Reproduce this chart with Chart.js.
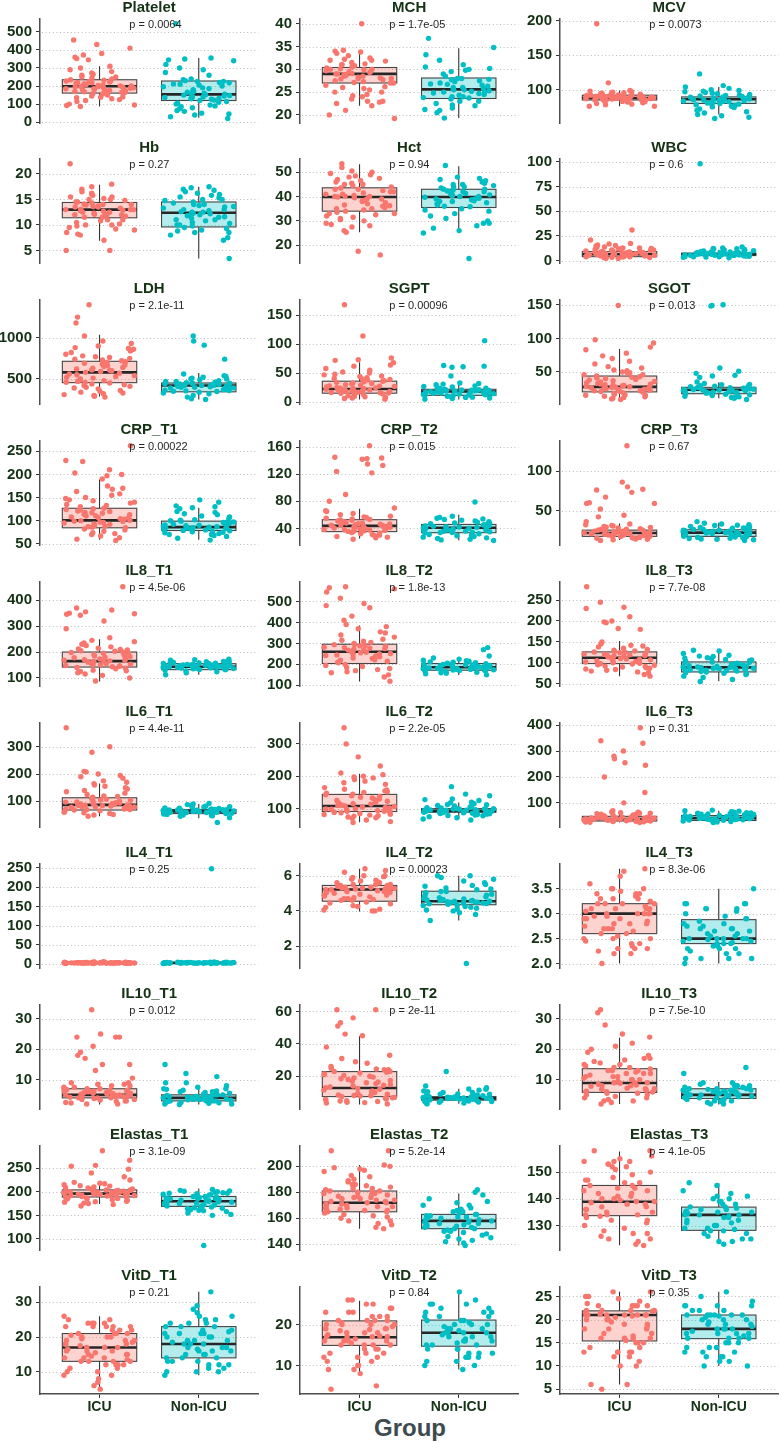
<!DOCTYPE html>
<html>
<head>
<meta charset="utf-8">
<script src="https://cdn.jsdelivr.net/npm/chart.js@4.4.0/dist/chart.umd.min.js"></script>
<style>
  body { margin: 0; background: #fff; }
  #wrap { position: relative; width: 781px; height: 1443px; overflow: hidden; }
  #wrap canvas { position: absolute; }
  #xtitle { position: absolute; left: 300px; width: 220px; top: 1413px; text-align: center;
            font: bold 24px "Liberation Sans", Arial, sans-serif; color: #3d4b4f; line-height: 30px; }
</style>
</head>
<body>
<div id="wrap"><div id="xtitle">Group</div></div>
<script>
const PANELS = ['Platelet', 'MCH', 'MCV', 'Hb', 'Hct', 'WBC', 'LDH', 'SGPT', 'SGOT',
  'CRP_T1', 'CRP_T2', 'CRP_T3', 'IL8_T1', 'IL8_T2', 'IL8_T3', 'IL6_T1', 'IL6_T2', 'IL6_T3',
  'IL4_T1', 'IL4_T2', 'IL4_T3', 'IL10_T1', 'IL10_T2', 'IL10_T3',
  'Elastas_T1', 'Elastas_T2', 'Elastas_T3', 'VitD_T1', 'VitD_T2', 'VitD_T3'];
const GROUPS = ['ICU', 'Non-ICU'];
const P_LABELS = ['p = 0.0064', 'p = 1.7e-05', 'p = 0.0073', 'p = 0.27', 'p = 0.94', 'p = 0.6',
  'p = 2.1e-11', 'p = 0.00096', 'p = 0.013', 'p = 0.00022', 'p = 0.015', 'p = 0.67',
  'p = 4.5e-06', 'p = 1.8e-13', 'p = 7.7e-08', 'p = 4.4e-11', 'p = 2.2e-05', 'p = 0.31',
  'p = 0.25', 'p = 0.00023', 'p = 8.3e-06', 'p = 0.012', 'p = 2e-11', 'p = 7.5e-10',
  'p = 3.1e-09', 'p = 5.2e-14', 'p = 4.1e-05', 'p = 0.21', 'p = 0.84', 'p = 0.35'];

const Y_TICKS = [
  [0, 100, 200, 300, 400, 500], [20, 25, 30, 35, 40], [100, 150, 200],
  [5, 10, 15, 20], [20, 30, 40, 50], [0, 25, 50, 75, 100],
  [500, 1000], [0, 50, 100, 150], [50, 100, 150],
  [50, 100, 150, 200, 250], [40, 80, 120, 160], [50, 100],
  [100, 200, 300, 400], [100, 200, 300, 400, 500], [50, 100, 150, 200, 250],
  [100, 200, 300], [100, 200, 300], [100, 200, 300, 400],
  [0, 50, 100, 150, 200, 250], [2, 4, 6], [2, 2.5, 3, 3.5],
  [10, 20, 30], [20, 40, 60], [10, 20, 30],
  [100, 150, 200, 250], [140, 160, 180, 200], [130, 140, 150],
  [10, 20, 30], [10, 20], [5, 10, 15, 20, 25]
];

// box stats: lower whisker, Q1, median, Q3, upper whisker
const ICU_BOX = [
  [87, 161, 199, 235, 310], [22, 27, 29, 30.4, 34.2], [76, 85, 88, 92, 99],
  [6.9, 11.4, 13, 14.4, 17.9], [25.3, 34, 39.8, 43.6, 53.3], [2.2, 4.1, 6.6, 9.2, 14],
  [286, 455, 580, 714, 1036], [4.3, 15.3, 22.6, 36, 68.5], [10.9, 20.4, 27.8, 44, 84],
  [58.7, 84.6, 100.6, 126.8, 189], [25, 35.2, 43.7, 52.8, 68.8], [12.6, 17.3, 21.5, 25.2, 33.6],
  [86, 142, 165, 200, 249], [118, 204, 260, 296, 385], [68, 98, 112, 126, 152],
  [45, 68, 87, 113, 165], [58, 91, 108, 144, 208], [24, 30, 38, 48, 66],
  [1.2, 2.5, 3, 3.5, 5], [3.96, 4.55, 5.22, 5.45, 6.4], [2, 2.6, 3, 3.2, 3.9],
  [1.8, 4, 5, 7, 9.2], [2.6, 7.5, 12.8, 22.9, 44.6], [2, 5.8, 8.9, 13.6, 23.8],
  [174, 189, 196, 204, 221], [152, 165, 172, 181, 201], [122.6, 133.7, 138.9, 145, 157.7],
  [5, 13, 17, 21, 26], [8.2, 14.9, 16.9, 20.9, 25.8], [6, 15.4, 21, 21.9, 26]
];
const NON_ICU_BOX = [
  [24, 120, 154, 228, 355], [19.3, 23.6, 25.6, 28.1, 34.6], [64, 80, 86, 89.5, 104],
  [3.4, 9.6, 12.4, 14.5, 17.5], [25, 35.5, 39.8, 43, 52.5], [3, 5.2, 6.6, 7.7, 11],
  [250, 344, 420, 451, 571], [4.3, 11.6, 18.3, 22, 33], [10.9, 17.7, 23.5, 27.2, 34.6],
  [58.7, 78.7, 86, 99, 128], [22.4, 33.6, 41, 45.8, 60], [12, 17.3, 22, 25.7, 34.6],
  [112, 132, 143, 155, 168], [149, 172, 186, 204, 228], [56, 78, 89, 102, 124],
  [38, 55, 63, 70, 90], [69, 89, 93, 100, 119], [24, 32, 41, 51, 70],
  [1.2, 2.5, 3, 3.5, 5], [3.45, 4.35, 4.55, 5.12, 6], [2, 2.4, 2.5, 2.88, 3.5],
  [1.8, 3, 4, 5, 7.7], [3.1, 5.3, 6.4, 7.5, 12.4], [1.8, 3.8, 5, 7, 9.2],
  [155, 169, 180, 190, 207], [139, 152, 158, 163, 179], [123.9, 128.2, 134, 136.9, 145.8],
  [9, 14, 18, 23, 33], [9, 14.7, 18, 21.1, 27.7], [10, 15.9, 18, 21, 26]
];

const ICU_VALUES = [
  /* Platelet */ [455, 430, 410, 380, 372, 360, 352, 345, 310, 290, 280, 272, 260, 250, 245, 240, 235, 230, 225, 220, 215, 210, 205, 200, 198, 195, 190, 188, 185, 180, 175, 170, 165, 160, 155, 150, 140, 135, 130, 120, 100, 95, 92, 87,
    232, 228, 222, 218, 212, 208, 203, 201, 197, 193, 190, 186, 182, 178, 174, 168, 164, 162, 158, 145, 138, 125, 115, 250, 265, 300],
  /* MCH */ [40, 34.2, 34, 33.5, 33, 32.5, 32, 32, 31.5, 31, 31, 30.5, 30, 30, 29.5, 29.5, 29, 29, 28.5, 28.5, 28, 28, 27.5, 27, 27, 26.5, 26, 25.5, 25, 25, 24.5, 24, 23, 23, 22.5, 22, 21, 20, 19.2,
    30.3, 30.1, 29.9, 29.7, 29.3, 29.1, 28.9, 28.7, 28.3, 28.1, 27.9, 27.7, 27.3, 27.1, 30.8, 31.2, 31.8, 32.2, 26.2, 25.8, 24.2, 23.5, 33.8, 22.8],
  /* MCV */ [196, 110, 99, 98, 97, 96, 95, 94, 93, 92, 92, 91, 91, 90, 90, 90, 89, 89, 88, 88, 88, 87, 87, 86, 86, 85, 85, 84, 83, 82, 81, 80, 79, 78, 76, 76,
    91.5, 90.5, 89.5, 88.5, 87.5, 86.5, 85.5, 84.5, 92.5, 93.5, 94.5, 90.2, 89.2, 88.2, 87.2, 86.2, 85.2, 83.5, 82.5, 95.5, 96.5, 91.2, 90.8, 89.8],
  /* Hb */ [22, 18, 17.5, 17, 16.5, 16, 15.5, 15.5, 15, 15, 14.5, 14.5, 14, 14, 14, 13.5, 13.5, 13, 13, 13, 12.5, 12.5, 12, 12, 12, 11.5, 11, 11, 10.5, 10, 10, 9.5, 9, 8.5, 8, 7, 5, 5,
    14.3, 14.1, 13.9, 13.7, 13.3, 13.1, 12.9, 12.7, 12.3, 12.1, 11.9, 11.7, 11.5, 14.8, 15.2, 15.8, 16.2, 10.8, 10.2, 9.8, 9.2, 13.6, 12.8, 8.2],
  /* Hct */ [53.5, 52, 50.5, 50, 49.5, 49, 48, 47, 46, 45, 45, 44, 43, 43, 42, 42, 41, 41, 40, 40, 39, 39, 38, 37, 36, 35, 35, 34, 33, 33, 32, 31, 30, 29, 28, 27.5, 26, 25.3, 17.5, 16,
    43.5, 42.5, 41.5, 40.5, 39.5, 38.5, 37.5, 36.5, 35.5, 34.5, 44.5, 45.5, 46.5, 47.5, 33.5, 32.5, 31.5, 30.5, 39.8, 40.2, 38.2, 36.2, 48.5, 28.5],
  /* WBC */ [31, 21, 17.5, 17, 16, 15, 14, 13, 12.5, 12, 11.5, 11, 10.5, 10, 9.5, 9, 8.5, 8, 8, 7.5, 7, 7, 6.5, 6.5, 6, 6, 5.5, 5, 5, 4.5, 4, 4, 3.5, 3, 2.5, 2.2,
    9, 8.8, 8.3, 7.8, 7.3, 6.8, 6.3, 5.8, 5.3, 4.8, 4.3, 9.8, 10.8, 11.8, 12.8, 13.5, 7.2, 6.2, 5.2, 6.7, 7.7, 3.8, 3.2, 15.5],
  /* LDH */ [1400, 1250, 1180, 1020, 960, 930, 900, 880, 860, 840, 800, 780, 760, 740, 720, 700, 680, 660, 640, 620, 600, 580, 560, 540, 520, 500, 480, 460, 450, 440, 420, 400, 380, 360, 340, 330, 320, 300, 290, 280,
    710, 690, 670, 650, 630, 610, 590, 570, 550, 530, 510, 490, 470, 458, 730, 750, 770, 820, 870, 430, 410, 390, 350, 310, 605],
  /* SGPT */ [168, 114, 76, 73, 72, 68, 64, 58, 52, 50, 48, 45, 42, 40, 38, 36, 34, 32, 30, 28, 27, 26, 24, 23, 22, 21, 20, 19, 18, 17, 16, 15, 14, 13, 12, 10, 9, 8, 6, 5,
    35, 33, 31, 29, 27.5, 25, 24.5, 23.5, 22.5, 21.5, 20.5, 19.5, 18.5, 17.5, 16.5, 15.5, 37, 39, 41, 44, 47, 55, 62, 11, 7],
  /* SGOT */ [149, 98, 93, 87, 83, 74, 66, 62, 56, 52, 50, 48, 46, 44, 42, 40, 38, 36, 34, 32, 30, 29, 28, 27, 26, 25, 24, 22, 21, 20, 19, 18, 17, 16, 15, 14, 13, 12, 11, 10, 9,
    43, 41, 39, 37, 35, 33, 31, 29.5, 28.5, 27.5, 26.5, 25.5, 24.5, 23, 22, 21, 46, 49, 53, 58, 70, 78, 32, 30.5, 15.5],
  /* CRP_T1 */ [262, 230, 228, 210, 203, 200, 197, 190, 175, 170, 163, 155, 150, 145, 140, 135, 130, 127, 124, 120, 117, 114, 110, 107, 104, 100, 98, 96, 93, 90, 88, 85, 82, 80, 77, 74, 70, 67, 63, 60, 57,
    126, 123, 121, 118, 116, 113, 111, 108, 106, 103, 101, 99, 97, 95, 92, 89, 87, 86, 133, 138, 143, 148, 158, 168, 72],
  /* CRP_T2 */ [162, 145, 144, 143, 142, 135, 133, 124, 122, 90, 80, 70, 65, 60, 57, 55, 53, 52, 50, 48, 47, 46, 45, 44, 43, 42, 41, 40, 39, 38, 37, 36, 35, 34, 32, 30, 28, 26, 24,
    52.5, 51, 49, 47.5, 46.5, 45.5, 44.5, 43.5, 42.5, 41.5, 40.5, 39.5, 38.5, 37.5, 36.5, 35.5, 54, 56, 58, 62, 66, 33, 31, 29, 27],
  /* CRP_T3 */ [132, 86, 80, 77, 76, 73, 67, 60, 59, 59, 52, 44, 36, 33, 31, 30, 29, 28, 27, 26, 25, 24, 23, 22, 21, 21, 20, 20, 19, 18, 18, 17, 16, 15, 14, 13, 12,
    25, 24.5, 23.5, 22.5, 21.5, 20.5, 19.5, 18.5, 17.5, 24, 23, 22, 21, 20, 19, 18, 26.5, 28.5, 30.5, 32, 16.5, 15.5, 14.5, 13.5, 42],
  /* IL8_T1 */ [452, 370, 362, 355, 350, 348, 346, 342, 320, 290, 255, 245, 235, 225, 215, 210, 205, 200, 195, 190, 185, 180, 175, 170, 168, 165, 160, 155, 150, 145, 140, 135, 130, 125, 120, 115, 110, 100, 88,
    198, 193, 188, 183, 178, 173, 168, 166, 163, 161, 158, 156, 153, 151, 148, 146, 143, 203, 208, 212, 220, 230, 240, 138, 128],
  /* IL8_T2 */ [570, 565, 560, 545, 515, 490, 480, 470, 430, 410, 390, 370, 355, 340, 320, 310, 300, 295, 290, 285, 280, 275, 270, 265, 260, 255, 250, 245, 240, 230, 220, 210, 200, 190, 180, 170, 160, 150, 140, 120,
    294, 288, 282, 278, 272, 268, 262, 258, 252, 248, 242, 236, 228, 222, 215, 208, 305, 315, 330, 350, 380, 195, 185, 175, 165],
  /* IL8_T3 */ [282, 245, 233, 230, 210, 200, 198, 196, 182, 180, 145, 140, 135, 130, 127, 125, 122, 120, 117, 115, 113, 111, 110, 108, 105, 103, 100, 98, 95, 92, 90, 87, 84, 80, 76, 72, 68,
    126, 124, 121, 119, 116, 114, 112, 109, 107, 104, 102, 99, 97, 128, 132, 138, 142, 150, 94, 91, 88, 85, 82, 78, 118],
  /* IL6_T1 */ [370, 300, 280, 210, 208, 200, 195, 190, 185, 175, 165, 160, 155, 150, 140, 130, 120, 115, 110, 105, 100, 98, 95, 92, 90, 88, 86, 84, 82, 80, 78, 75, 72, 70, 68, 65, 60, 55, 50, 45,
    112, 108, 104, 101, 97, 94, 91, 89, 87, 85, 83, 81, 79, 77, 74, 71, 69, 118, 125, 135, 145, 170, 62, 58, 52],
  /* IL6_T2 */ [350, 300, 260, 232, 210, 205, 200, 198, 190, 185, 175, 160, 155, 150, 145, 140, 135, 130, 125, 120, 115, 112, 110, 108, 105, 102, 100, 98, 95, 92, 90, 88, 85, 82, 80, 77, 74, 70, 65, 60, 57,
    143, 138, 133, 128, 123, 118, 114, 111, 107, 104, 101, 99, 97, 94, 92, 148, 152, 158, 165, 180, 195, 87, 83, 78, 72],
  /* IL6_T3 */ [390, 340, 330, 300, 280, 270, 255, 245, 200, 140, 100, 70, 65, 62, 60, 58, 55, 52, 50, 48, 46, 45, 44, 43, 42, 41, 40, 39, 38, 37, 36, 35, 34, 33, 32, 31, 30, 28, 26, 24,
    48, 47, 45, 44, 43, 42, 41, 40, 39, 38, 37, 36, 35, 34, 33, 32, 31, 50, 53, 56, 60, 64, 29, 27, 25],
  /* IL4_T1 */ [6, 5.5, 5, 4.8, 4.6, 4.4, 4.3, 4.2, 4.1, 4, 3.8, 3.7, 3.6, 3.5, 3.5, 3.4, 3.3, 3.3, 3.2, 3.1, 3.1, 3, 3, 2.9, 2.8, 2.7, 2.6, 2.5, 2.4, 2.3, 2.2, 2.1, 2, 1.8, 1.5, 1.2,
    3.05, 2.95, 3.15, 3.25, 3.35, 3.45, 2.85, 2.75, 2.65, 2.55, 3.55, 3.65, 3.75, 3.9, 2.45, 2.35, 4.05, 4.5, 1.9, 1.7, 3, 3.2, 2.9, 3.4],
  /* IL4_T2 */ [6.4, 6.3, 6.2, 6, 6, 5.9, 5.8, 5.7, 5.6, 5.6, 5.5, 5.5, 5.45, 5.4, 5.35, 5.3, 5.3, 5.25, 5.2, 5.15, 5.1, 5.05, 5, 4.95, 4.9, 4.8, 4.75, 4.7, 4.6, 4.5, 4.4, 4.3, 4.2, 4.1, 4, 4,
    5.45, 5.4, 5.35, 5.3, 5.28, 5.25, 5.22, 5.2, 5.18, 5.15, 5.1, 5.05, 5, 4.9, 4.85, 4.7, 4.65, 4.6, 5.5, 5.65, 5.75, 5.95, 4.45, 4.25, 4.05],
  /* IL4_T3 */ [3.9, 3.85, 3.5, 3.5, 3.45, 3.4, 3.4, 3.35, 3.3, 3.3, 3.2, 3.2, 3.2, 3.1, 3.1, 3.1, 3, 3, 3, 2.95, 2.9, 2.9, 2.8, 2.8, 2.7, 2.7, 2.6, 2.5, 2.5, 2.45, 2.4, 2.35, 2.3, 2.3, 2.25, 2.2, 2,
    3.2, 3.15, 3.1, 3.05, 3, 3, 2.95, 2.9, 2.85, 2.8, 2.75, 2.7, 2.65, 2.6, 3.25, 3.3, 3.4, 3.5, 3.6, 2.55, 2.5, 2.4, 2.3, 2.2, 3.75],
  /* IL10_T1 */ [33, 25, 24, 24, 24, 21, 19, 18, 17, 15, 15, 13, 9, 9, 8.5, 8, 7.5, 7, 7, 6.5, 6.2, 6, 6, 5.8, 5.5, 5.5, 5, 5, 5, 4.5, 4.5, 4, 4, 3.5, 3.5, 3, 3, 2.5, 2, 2,
    7, 6.8, 6.5, 6.3, 6, 5.7, 5.4, 5.2, 5, 4.8, 4.6, 4.4, 4.2, 4, 7.5, 8, 8.5, 3.8, 3.3, 2.8, 2.3, 5.3, 4.7, 6.7, 10.5],
  /* IL10_T2 */ [61, 61, 56, 53, 51, 46, 45, 33, 29, 25, 24, 24, 23, 23, 22, 21, 20, 19, 18, 17, 16, 15, 14, 13, 12, 11, 10, 9, 8.5, 8, 7.5, 7, 6.5, 6, 5.5, 5, 4.5, 4, 3.5, 3,
    22.5, 21.5, 20.5, 19.5, 18.5, 17.5, 16.5, 15.5, 14.5, 13.5, 12.5, 11.5, 10.5, 9.5, 8.2, 7.8, 24.5, 26, 28, 31, 38, 6.8, 5.8, 4.8, 3.8],
  /* IL10_T3 */ [33, 32, 28, 25, 24, 21, 20, 18, 17, 17, 16, 15, 15, 14, 14, 13, 13, 12, 12, 11, 11, 10, 10, 9, 9, 8.5, 8, 8, 7, 7, 6.5, 6, 6, 5.5, 5.5, 5, 5, 4, 4, 3, 3, 2,
    13.5, 13, 12.5, 12, 11.5, 11, 10.5, 10, 9.5, 9, 8.8, 8.2, 7.8, 7.2, 6.8, 6.2, 5.9, 14.5, 15.5, 16.5, 19, 22, 4.5, 3.5, 2.5],
  /* Elastas_T1 */ [287, 267, 256, 254, 248, 232, 225, 220, 218, 215, 212, 210, 208, 206, 204, 203, 201, 200, 199, 198, 197, 196, 195, 194, 193, 192, 191, 190, 188, 187, 186, 185, 184, 182, 180, 178, 176, 173, 170,
    204, 203, 202, 201, 200, 199, 198, 197, 196, 195, 194, 193, 192, 191, 190, 189, 206, 209, 213, 217, 186, 183, 179, 175, 240],
  /* Elastas_T2 */ [212, 212, 201, 200, 199, 198, 196, 192, 190, 188, 186, 185, 184, 183, 182, 181, 180, 179, 178, 177, 176, 175, 174, 173, 172, 171, 170, 169, 168, 167, 166, 165, 164, 163, 162, 160, 158, 156, 153, 152,
    181, 180, 179, 178, 177, 176, 175, 174, 173, 172, 171, 170, 169, 168, 167, 166, 165, 183, 186, 189, 193, 197, 161, 158, 155],
  /* Elastas_T3 */ [158, 158, 155, 154, 154, 154, 153, 152, 152, 150, 148, 147, 146, 145, 144, 143, 142, 141, 140, 139, 138, 137, 136, 135, 134, 134, 133, 132, 131, 130, 128, 127, 126, 125, 124, 123, 122.5,
    145, 144, 143, 142, 141, 140, 139.5, 139, 138.5, 138, 137, 136, 135, 134, 133.5, 146, 147, 149, 151, 153, 132, 129, 127, 125, 156],
  /* VitD_T1 */ [26, 25, 24, 24, 24, 23, 23, 23, 23, 22, 22, 21, 21, 21, 20, 20, 19, 19, 18, 18, 17, 17, 16, 16, 15, 15, 14, 14, 13, 13, 13, 12, 12, 12, 11, 10, 9, 9, 7, 6, 5,
    21, 20.5, 20, 19.5, 19, 18.5, 18, 17.5, 17, 16.5, 16, 15.5, 15, 14.5, 14, 13.5, 13, 22, 23, 24, 12, 11, 10, 8, 25],
  /* VitD_T2 */ [26, 26, 25, 24, 23, 23, 22, 22, 21, 21, 21, 20, 20, 20, 19, 19, 19, 18, 18, 17, 17, 17, 16, 16, 16, 15, 15, 15, 14, 14, 13, 13, 12, 12, 11, 10, 9, 8, 5, 4.2,
    21, 20.5, 20, 19.5, 19, 18.5, 18, 17.5, 17, 16.5, 16, 15.5, 15, 22, 23, 24, 25, 14, 13, 12, 11, 10, 9, 17.2, 18.8],
  /* VitD_T3 */ [26, 26, 25, 24, 23, 23, 23, 23, 22, 22, 22, 21, 21, 21, 21, 21, 20, 20, 19, 18, 18, 17, 16, 16, 16, 15, 15, 15, 14, 13, 13, 13, 13, 12, 10, 10, 6, 6, 5,
    22, 21.8, 21.5, 21.2, 21, 21, 20.8, 20.5, 20, 19.5, 19, 18.5, 18, 17, 16.5, 16, 15.5, 23, 23.5, 24.5, 25, 14, 13, 12, 11]
];

const NON_ICU_VALUES = [
  /* Platelet */ [545, 355, 350, 345, 340, 320, 300, 290, 275, 260, 240, 235, 230, 225, 220, 210, 200, 190, 180, 170, 160, 155, 150, 145, 140, 135, 130, 120, 110, 100, 90, 80, 75, 65, 60, 50, 45, 40, 30, 20,
    226, 218, 212, 205, 196, 186, 176, 166, 158, 152, 148, 142, 137, 132, 127, 122, 115, 105, 95, 85],
  /* MCH */ [36.8, 34.8, 33.2, 32, 31, 30.5, 30, 29.5, 29, 28.5, 28, 27.5, 27, 26.5, 26, 26, 25.5, 25.5, 25, 25, 24.5, 24, 24, 23.5, 23, 23, 22.5, 22, 21.5, 21, 20.5, 19.3,
    28, 27.8, 27.3, 26.8, 26.3, 25.8, 25.3, 24.8, 24.3, 23.8, 23.7, 25.7, 26.7, 27.7, 29.8, 30.2, 22.2, 21.2, 24.7, 25.2],
  /* MCV */ [123, 106, 104, 102, 100, 98, 96, 94, 92, 91, 90, 89, 88, 87, 86, 86, 85, 84, 83, 82, 81, 80, 79, 78, 77, 75, 72, 70, 66, 62, 60, 58,
    89, 88.5, 87.5, 86.5, 85.5, 84.5, 83.5, 82.5, 81.5, 80.5, 79.5, 91.5, 93, 95, 97, 99, 76, 74, 68, 64],
  /* Hb */ [17.5, 17.3, 17, 16.5, 16.2, 16, 15.5, 15, 15, 14.5, 14, 14, 13.5, 13, 13, 12.5, 12.5, 12, 12, 11.5, 11, 11, 10.5, 10, 10, 9.5, 9, 8.5, 8.5, 8, 7.5, 7, 3.4,
    14.3, 13.8, 13.3, 12.8, 12.3, 11.8, 11.3, 10.8, 10.3, 9.8, 14.8, 15.3, 15.8, 16.8, 9.3, 8.8, 12.2, 12.6, 13.6, 11.6],
  /* Hct */ [52.8, 48, 47.5, 47, 46, 45, 45, 44, 44, 43, 43, 42, 42, 41, 41, 40, 40, 39, 39, 38, 38, 37, 36, 35, 34, 33, 32, 30, 29, 29, 27, 26, 25, 14.5,
    42.8, 42.3, 41.7, 41.3, 40.7, 40.3, 39.7, 39.3, 38.7, 38.3, 37.5, 36.5, 35.8, 43.5, 44.5, 45.5, 46.5, 34.5, 31, 28],
  /* WBC */ [98, 14, 13, 12.5, 12, 11, 10.5, 10, 9.5, 9, 9, 8.5, 8, 8, 7.5, 7.5, 7, 7, 6.5, 6.5, 6, 6, 5.5, 5.5, 5, 5, 4.5, 4, 4, 3.5, 3,
    7.6, 7.3, 7.1, 6.9, 6.7, 6.4, 6.2, 5.9, 5.7, 5.4, 5.3, 8.3, 8.8, 9.3, 10.2, 11.5, 4.8, 4.3, 3.8, 12.2],
  /* LDH */ [1020, 960, 910, 740, 560, 540, 520, 510, 500, 490, 480, 470, 460, 450, 440, 430, 420, 420, 410, 400, 390, 380, 370, 360, 350, 340, 330, 320, 300, 280, 260, 250,
    448, 445, 440, 435, 428, 424, 415, 412, 405, 398, 392, 385, 375, 365, 355, 348, 455, 470, 500, 530],
  /* SGPT */ [106, 63, 62, 61, 60, 45, 33, 32, 30, 28, 26, 24, 23, 22, 21, 20, 19, 18, 18, 17, 16, 15, 14, 13, 12, 11, 10, 9, 8, 7, 6, 5,
    21.5, 20.5, 19.5, 18.5, 17.5, 16.5, 15.5, 14.5, 13.5, 12.5, 12, 21, 20, 19, 17, 15, 24, 27, 31, 8.5],
  /* SGOT */ [150, 149, 148, 56, 51, 48, 45, 44, 42, 35, 33, 31, 30, 29, 28, 27, 26, 25, 24, 23, 22, 21, 20, 19, 18, 17, 16, 15, 14, 13, 12, 11, 9,
    27, 26.5, 25.5, 24.5, 23.5, 22.5, 21.5, 20.5, 19.5, 18.5, 18, 26, 25, 24, 23, 22, 29.5, 31.5, 14.5, 12.5],
  /* CRP_T1 */ [145, 140, 132, 130, 128, 126, 120, 115, 110, 105, 102, 100, 98, 96, 94, 92, 90, 88, 86, 85, 84, 82, 80, 78, 76, 74, 72, 70, 68, 66, 62, 58,
    99, 97, 95, 93, 91, 89, 87, 86, 85, 84, 83, 81, 79, 77, 101, 108, 113, 118, 75, 70],
  /* CRP_T2 */ [79, 58, 56, 55, 53, 52, 50, 48, 47, 46, 45, 44, 43, 42, 41, 40, 39, 38, 37, 36, 35, 34, 33, 32, 30, 28, 26, 25, 24, 23, 22,
    45.5, 44.5, 43.5, 42.5, 41.5, 40.5, 39.5, 38.5, 37.5, 36.5, 35.5, 34.5, 33.8, 47.5, 49, 51, 54, 31, 29, 27],
  /* CRP_T3 */ [36, 34, 33, 32, 31, 30, 29, 28, 27, 26, 25, 25, 24, 24, 23, 22, 22, 21, 21, 20, 20, 19, 18, 17, 16, 15, 14, 13, 12,
    25.5, 24.5, 23.5, 22.5, 21.5, 20.5, 19.5, 18.5, 17.5, 26.5, 27.5, 28.5, 29.5, 31.5, 16.5, 15.5, 14.5, 13.5, 23, 21],
  /* IL8_T1 */ [172, 170, 168, 166, 164, 162, 160, 158, 156, 155, 153, 152, 150, 149, 148, 147, 146, 145, 144, 143, 142, 141, 140, 138, 136, 134, 132, 130, 127, 124, 120, 112,
    154, 152, 151, 150, 149, 148, 147, 146, 145, 144, 143, 142, 141, 139, 137, 135, 133, 157, 159, 163],
  /* IL8_T2 */ [280, 270, 240, 230, 225, 220, 215, 210, 205, 200, 198, 195, 192, 190, 188, 186, 184, 182, 180, 178, 176, 174, 172, 170, 168, 165, 162, 158, 155, 150,
    203, 201, 199, 197, 194, 191, 189, 187, 185, 183, 181, 179, 177, 175, 173, 171, 208, 212, 218, 160],
  /* IL8_T3 */ [130, 128, 122, 118, 115, 112, 110, 108, 105, 102, 100, 98, 96, 94, 92, 90, 89, 88, 87, 86, 85, 84, 82, 80, 78, 76, 74, 72, 68, 65, 60, 55,
    101, 99, 97, 95, 93, 91, 90, 89, 88, 87, 86, 85, 83, 81, 79, 104, 107, 111, 116, 75],
  /* IL6_T1 */ [92, 90, 88, 85, 82, 80, 78, 76, 74, 72, 70, 69, 68, 67, 66, 65, 64, 63, 62, 61, 60, 59, 58, 57, 55, 53, 50, 47, 45, 40, 22,
    70, 69, 68, 67, 66, 65, 64, 63, 62, 61, 60, 59, 58, 57, 56, 73, 75, 79, 52, 48],
  /* IL6_T2 */ [168, 145, 140, 130, 128, 125, 120, 115, 112, 110, 105, 102, 100, 99, 98, 96, 95, 94, 93, 92, 91, 90, 89, 88, 86, 85, 84, 82, 80, 78, 75, 72, 68, 65,
    100, 99, 98, 97, 96, 95, 94, 93, 92, 91, 90, 89, 103, 106, 108, 113, 118, 87, 83, 79],
  /* IL6_T3 */ [72, 70, 68, 66, 64, 62, 60, 58, 56, 55, 54, 52, 50, 49, 48, 47, 46, 45, 44, 43, 42, 41, 40, 39, 38, 36, 35, 34, 32, 30, 28, 26, 24,
    51, 50, 48, 47, 46, 45, 44, 43, 42, 41, 40, 39, 38, 37, 35, 33, 53, 57, 61, 65],
  /* IL4_T1 */ [248, 5.5, 5, 4.8, 4.5, 4.2, 4, 3.8, 3.6, 3.5, 3.4, 3.3, 3.25, 3.2, 3.15, 3.1, 3.05, 3, 2.9, 2.8, 2.7, 2.6, 2.5, 2.3, 2, 1.8, 1.5, 1.2,
    3.05, 2.95, 3.15, 3.25, 3.35, 3.45, 2.85, 2.75, 2.65, 2.55, 3.55, 3.7, 3.9, 2.4, 2.2, 4.1, 4.3, 1.7, 3, 3.2],
  /* IL4_T2 */ [6, 6, 5.9, 5.8, 5.6, 5.5, 5.4, 5.3, 5.2, 5.1, 5, 4.9, 4.8, 4.7, 4.65, 4.6, 4.6, 4.55, 4.5, 4.5, 4.45, 4.4, 4.35, 4.3, 4.2, 4.1, 4, 3.9, 3.8, 3.45, 1,
    5.1, 5.05, 4.95, 4.85, 4.75, 4.68, 4.62, 4.58, 4.55, 4.52, 4.48, 4.45, 4.42, 4.38, 5.25, 5.45, 5.7, 4.25, 4.15, 4.05],
  /* IL4_T3 */ [3.5, 3.2, 3.2, 3.2, 3.1, 3.1, 3.1, 3, 2.9, 2.9, 2.8, 2.75, 2.7, 2.7, 2.65, 2.6, 2.55, 2.5, 2.5, 2.5, 2.45, 2.4, 2.4, 2.35, 2.3, 2.3, 2.25, 2.2, 2.1, 2.1, 2.1, 2,
    2.85, 2.8, 2.75, 2.7, 2.65, 2.6, 2.55, 2.5, 2.5, 2.48, 2.45, 2.42, 2.4, 2.95, 3.05, 3.2, 2.35, 2.3, 2.2, 2.1],
  /* IL10_T1 */ [15, 12, 11, 9, 9, 8, 7, 7, 6.5, 6, 6, 5.5, 5, 5, 5, 4.5, 4.5, 4, 4, 4, 3.5, 3.5, 3, 3, 3, 2.5, 2.5, 2, 2, 1.8,
    5, 4.8, 4.6, 4.4, 4.2, 4, 3.8, 3.6, 3.4, 3.2, 3, 5.3, 5.8, 6.3, 6.8, 7.5, 2.8, 2.4, 2.2, 4.1],
  /* IL10_T2 */ [23, 14, 13, 12, 11, 10, 10, 9, 9, 8.5, 8, 8, 7.5, 7.5, 7, 7, 6.5, 6.5, 6, 6, 5.5, 5.5, 5, 5, 4.5, 4.5, 4, 3.5, 3,
    7.5, 7.3, 7.1, 6.9, 6.7, 6.5, 6.3, 6.1, 5.9, 5.7, 5.5, 5.3, 8.3, 9.2, 10.5, 11.5, 12.2, 4.8, 4.2, 3.6],
  /* IL10_T3 */ [14, 12, 9, 9, 8.5, 8, 8, 7.5, 7.5, 7, 7, 6.5, 6.5, 6, 6, 5.5, 5.5, 5, 5, 5, 4.5, 4.5, 4, 4, 3.5, 3.5, 3, 3, 2.5, 2, 2,
    7, 6.8, 6.6, 6.4, 6.2, 6, 5.8, 5.6, 5.4, 5.2, 5, 4.8, 4.6, 4.4, 4.2, 4, 7.5, 8.2, 3.2, 2.8],
  /* Elastas_T1 */ [205, 203, 202, 200, 199, 198, 197, 196, 195, 194, 192, 190, 188, 186, 185, 183, 182, 180, 178, 176, 175, 173, 170, 168, 166, 164, 162, 160, 158, 155, 152, 150, 86,
    190, 189, 187, 186, 184, 183, 181, 180, 179, 177, 176, 174, 172, 171, 169, 193, 197, 201, 165, 161],
  /* Elastas_T2 */ [182, 180, 178, 175, 172, 170, 168, 166, 165, 164, 163, 162, 161, 160, 159, 158, 157, 156, 155, 154, 153, 152, 151, 150, 149, 148, 146, 145, 143, 141, 139,
    163, 162, 161, 160, 159, 158, 157, 156, 155, 154, 153, 152, 165, 167, 170, 173, 150, 147, 144, 142],
  /* Elastas_T3 */ [146, 145, 143, 142, 141, 140, 139, 138, 137, 136, 136, 135, 135, 134, 134, 133, 132, 131, 130, 129, 128, 128, 127, 126, 125, 124, 123,
    137, 136.5, 135.5, 135, 134.5, 134, 133.5, 133, 132, 131, 130, 129, 128.5, 138, 139, 140, 141, 127, 125, 124],
  /* VitD_T1 */ [33, 29, 28, 26, 25, 24, 24, 23, 23, 22, 21, 21, 21, 20, 20, 19, 19, 18, 18, 17, 17, 16, 16, 15, 15, 14, 14, 13, 13, 12, 12, 11, 10, 10, 10, 9,
    23, 22, 21, 20, 19, 18, 17, 16, 15, 14, 24, 25, 26, 27, 13, 12, 11, 21.5, 18.5, 16.5],
  /* VitD_T2 */ [28, 26, 25, 25, 24, 23, 23, 22, 22, 21, 21, 20, 20, 19, 19, 18, 18, 18, 17, 17, 16, 16, 15, 15, 14, 14, 13, 13, 12, 12, 11, 11, 10, 10, 9,
    21, 20.5, 20, 19.5, 19, 18.5, 18, 17.5, 17, 16.5, 16, 15.5, 15, 22, 23, 24, 25, 14, 13, 12],
  /* VitD_T3 */ [26, 25, 23, 23, 23, 22, 22, 21, 21, 21, 21, 21, 20, 20, 19, 19, 18, 18, 18, 17, 17, 17, 16, 16, 16, 15, 15, 14, 14, 13, 13, 12, 12, 11, 10, 10,
    21, 20.8, 20.5, 20, 19.5, 19, 18.5, 18, 17.5, 17, 16.5, 16, 22, 23, 24, 15, 14, 13, 12, 11]
];

const COLORS = ['#F8766D', '#00BFC4'];
const FILLS = ['rgba(248,118,109,0.32)', 'rgba(0,191,196,0.3)'];
const TEXT_GREEN = '#143214';
const FONT = '"Liberation Sans", Arial, sans-serif';

// layout of the 3 x 10 grid (pixels)
const PLOT_LEFT = [40, 300, 560];
const PLOT_W = 220;
const FIRST_TOP = 18.5;
const ROW_PITCH = 140.9;
const PLOT_H = 107;
const AXIS_W = 40;
const TITLE_H = 22;
const XAXIS_H = 26;

// horizontal jitter of the points inside the box width (irregular, repeatable)
function jitter(k) {
  const f = (k * 0.7548777 + k * k * 0.5698403 + 0.137) % 1;
  return (f - 0.5) * 0.72;
}

const boxPlugin = {
  id: 'boxes',
  beforeDatasetsDraw(chart) {
    const {ctx, chartArea, scales: {x, y}} = chart;
    const i = chart.options.plugins.boxes.panel;
    ctx.save();
    // dotted horizontal grid
    ctx.strokeStyle = '#b8b8b8';
    ctx.lineWidth = 1;
    ctx.setLineDash([1, 2.6]);
    y.ticks.forEach(t => {
      const py = Math.round(y.getPixelForValue(t.value)) + 0.5;
      ctx.beginPath();
      ctx.moveTo(chartArea.left + 2, py);
      ctx.lineTo(chartArea.right, py);
      ctx.stroke();
    });
    ctx.setLineDash([]);
    [ICU_BOX[i], NON_ICU_BOX[i]].forEach((s, g) => {
      const cx = x.getPixelForValue(g + 1);
      const x0 = x.getPixelForValue(g + 1 - 0.375);
      const x1 = x.getPixelForValue(g + 1 + 0.375);
      const [lo, q1, med, q3, hi] = s.map(v => y.getPixelForValue(v));
      ctx.strokeStyle = '#333';
      ctx.lineWidth = 1.1;
      ctx.beginPath();
      ctx.moveTo(cx, hi); ctx.lineTo(cx, q3);
      ctx.moveTo(cx, q1); ctx.lineTo(cx, lo);
      ctx.stroke();
      ctx.fillStyle = FILLS[g];
      ctx.fillRect(x0, q3, x1 - x0, q1 - q3);
      ctx.strokeStyle = '#454545';
      ctx.strokeRect(x0, q3, x1 - x0, q1 - q3);
      ctx.strokeStyle = '#262626';
      ctx.lineWidth = 2.6;
      ctx.beginPath();
      ctx.moveTo(x0, med); ctx.lineTo(x1, med);
      ctx.stroke();
    });
    ctx.restore();
  },
  afterDatasetsDraw(chart) {
    const {ctx, chartArea, scales: {x, y}} = chart;
    const i = chart.options.plugins.boxes.panel;
    const top = Math.max(...ICU_VALUES[i], ...NON_ICU_VALUES[i]);
    ctx.save();
    ctx.font = '11px ' + FONT;
    ctx.fillStyle = '#262626';
    ctx.textAlign = 'left';
    ctx.textBaseline = 'middle';
    ctx.fillText(P_LABELS[i], x.getPixelForValue(1.3), y.getPixelForValue(top) + 1);
    ctx.font = 'bold 15px ' + FONT;
    ctx.fillStyle = TEXT_GREEN;
    ctx.textAlign = 'center';
    ctx.fillText(PANELS[i], (chartArea.left + chartArea.right) / 2, chartArea.top - 11.5);
    ctx.restore();
  }
};

const wrap = document.getElementById('wrap');

PANELS.forEach((name, i) => {
  const row = Math.floor(i / 3), col = i % 3;
  const bottom = row === 9;
  const h = TITLE_H + PLOT_H + (bottom ? XAXIS_H : 0);
  const canvas = document.createElement('canvas');
  canvas.width = AXIS_W + PLOT_W + 1;
  canvas.height = h;
  canvas.style.left = (PLOT_LEFT[col] - AXIS_W) + 'px';
  canvas.style.top = (FIRST_TOP + row * ROW_PITCH - TITLE_H) + 'px';
  wrap.appendChild(canvas);

  const all = ICU_VALUES[i].concat(NON_ICU_VALUES[i], ICU_BOX[i], NON_ICU_BOX[i]);
  const lo = Math.min(...all), hi = Math.max(...all);
  const pad = (hi - lo) * 0.05;
  const decimals = Y_TICKS[i].some(v => !Number.isInteger(v)) ? 1 : 0;

  new Chart(canvas, {
    type: 'scatter',
    data: {
      datasets: [ICU_VALUES[i], NON_ICU_VALUES[i]].map((vals, g) => ({
        label: GROUPS[g],
        data: vals.map((v, k) => ({x: g + 1 + jitter(k + g * 37 + i * 3), y: v})),
        backgroundColor: COLORS[g],
        borderWidth: 0,
        pointRadius: 2.7,
        pointHoverRadius: 2.7
      }))
    },
    options: {
      responsive: false,
      animation: false,
      events: [],
      layout: {padding: {top: TITLE_H, left: 0, right: 1, bottom: 0}},
      plugins: {legend: {display: false}, tooltip: {enabled: false}, boxes: {panel: i}},
      scales: {
        x: {
          type: 'linear', min: 0.4, max: 2.6, bounds: 'data', display: bottom,
          afterBuildTicks: s => { s.ticks = [{value: 1}, {value: 2}]; },
          afterFit: s => {
            s.height = bottom ? XAXIS_H : 0;
            s.paddingLeft = 0; s.paddingRight = 0;
          },
          grid: {drawOnChartArea: false, tickLength: 4, tickColor: '#333', tickWidth: 1},
          border: {color: '#4d4d4d', width: 1.5},
          ticks: {
            callback: v => GROUPS[v - 1], color: TEXT_GREEN, padding: 1,
            maxRotation: 0, autoSkip: false, font: {family: FONT, size: 14, weight: 'bold'}
          }
        },
        y: {
          min: lo - pad, max: hi + pad, bounds: 'data',
          afterBuildTicks: s => { s.ticks = Y_TICKS[i].map(v => ({value: v})); },
          afterFit: s => { s.width = AXIS_W; s.paddingTop = 0; s.paddingBottom = 0; },
          grid: {drawOnChartArea: false, tickLength: 4, tickColor: '#333', tickWidth: 1},
          border: {color: '#4d4d4d', width: 1.5},
          ticks: {
            callback: v => v.toFixed(decimals), color: TEXT_GREEN, padding: 4, autoSkip: false,
            font: {family: FONT, size: 15, weight: 'bold'}
          }
        }
      }
    },
    plugins: [boxPlugin]
  });
});
</script>
</body>
</html>
